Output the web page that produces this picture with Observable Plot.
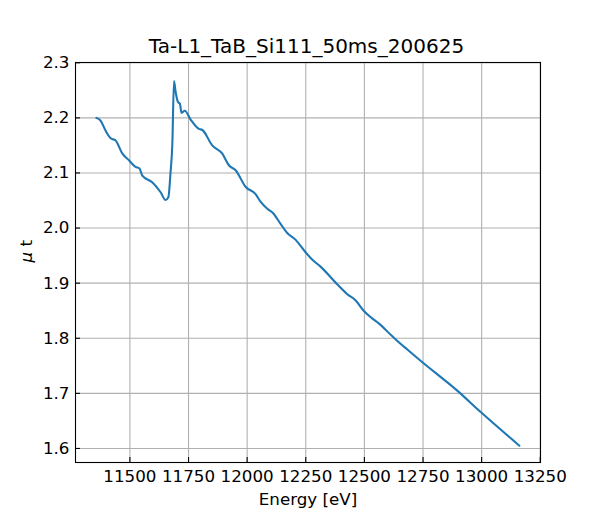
<!DOCTYPE html>
<html>
<head>
<meta charset="utf-8">
<script src="https://cdn.jsdelivr.net/npm/d3@7"></script>
<script src="https://cdn.jsdelivr.net/npm/@observablehq/plot@0.6"></script>
<style>
  body { margin: 0; background: #fff; font-family: "DejaVu Sans", sans-serif; }
  #wrap { width: 600px; }
  #title { width: 587px; height: 20px; padding-top: 36px; padding-left: 13px; font-size: 20px; line-height: 20px; text-align: center; color: #000; white-space: nowrap; }
  #chart svg { overflow: visible; display: block; }
</style>
</head>
<body>
<div id="wrap">
  <div id="title"></div>
  <div id="chart"></div>
</div>
<script>
const titleText = "Ta-L1_TaB_Si111_50ms_200625";
const xLabel = "Energy [eV]";
const yLabel = "μ t";

const energy = [11357, 11375, 11396, 11418, 11439, 11468, 11496, 11524, 11541, 11553,
  11595, 11631, 11652, 11664, 11673, 11681, 11688, 11695, 11706, 11713, 11720, 11734,
  11759, 11794, 11809, 11851, 11894, 11922, 11951, 11993, 12035, 12057, 12086, 12111,
  12142, 12171, 12206, 12249, 12277, 12313, 12384, 12427, 12462, 12497, 12533, 12561,
  12618, 12654, 12682, 12746, 12896, 12996, 13161];
const mu = [2.200, 2.195, 2.177, 2.163, 2.159, 2.135, 2.123, 2.111, 2.108, 2.095,
  2.083, 2.065, 2.051, 2.056, 2.099, 2.153, 2.267, 2.247, 2.228, 2.226, 2.209, 2.213,
  2.197, 2.180, 2.178, 2.150, 2.135, 2.114, 2.105, 2.075, 2.062, 2.048, 2.035, 2.027,
  2.008, 1.991, 1.979, 1.956, 1.943, 1.930, 1.898, 1.880, 1.869, 1.850, 1.836, 1.827,
  1.804, 1.790, 1.780, 1.757, 1.705, 1.666, 1.605];

const xTicks = [11500, 11750, 12000, 12250, 12500, 12750, 13000, 13250];
const yTicks = [1.6, 1.7, 1.8, 1.9, 2.0, 2.1, 2.2, 2.3];

const data = energy.map((e, i) => ({energy: e, mu: mu[i]}));

const font = "DejaVu Sans, sans-serif";
const fs = 16.7;
const chart = Plot.plot({
  width: 600,
  height: 464,
  marginTop: 6,
  marginBottom: 58,
  marginLeft: 75,
  marginRight: 60,
  style: {fontFamily: font, fontSize: fs + "px", color: "#000", background: "#fff"},
  x: {domain: [11268, 13251], label: null},
  y: {domain: [1.5745, 2.3005], label: null},
  marks: [
    Plot.ruleX(xTicks, {stroke: "#b0b0b0", strokeWidth: 1.1}),
    Plot.ruleY(yTicks, {stroke: "#b0b0b0", strokeWidth: 1.1}),
    Plot.line(data, {x: "energy", y: "mu", stroke: "#1f77b4", strokeWidth: 2.1, curve: "monotone-x"}),
    Plot.tickX(xTicks, {x: d => d, stroke: "#000", strokeWidth: 1.1, insetTop: 395}),
    Plot.tickY(yTicks, {y: d => d, stroke: "#000", strokeWidth: 1.1, insetRight: 460}),
    Plot.axisX(xTicks, {tickSize: 0, tickPadding: 8, fontSize: fs, tickFormat: d => String(d)}),
    Plot.axisY(yTicks, {tickSize: 0, tickPadding: 6, fontSize: fs, tickFormat: d3.format(".1f")}),
    Plot.frame({stroke: "#000", strokeWidth: 1.1}),
    Plot.text([xLabel], {frameAnchor: "bottom", dy: 31, lineAnchor: "top", fontSize: fs, fill: "#000"}),
    Plot.text([yLabel], {frameAnchor: "left", dx: -49, rotate: -90, lineAnchor: "middle", fontSize: fs, fill: "#000"})
  ]
});
document.getElementById("chart").appendChild(chart);
document.getElementById("title").textContent = titleText;

// italic mu as in the mathtext label
d3.select(chart).selectAll("text").each(function() {
  const t = d3.select(this);
  if (t.text() === yLabel) {
    t.text(null);
    t.append("tspan").attr("font-style", "italic").text("μ");
    t.append("tspan").text(" t");
  }
});
</script>
</body>
</html>
